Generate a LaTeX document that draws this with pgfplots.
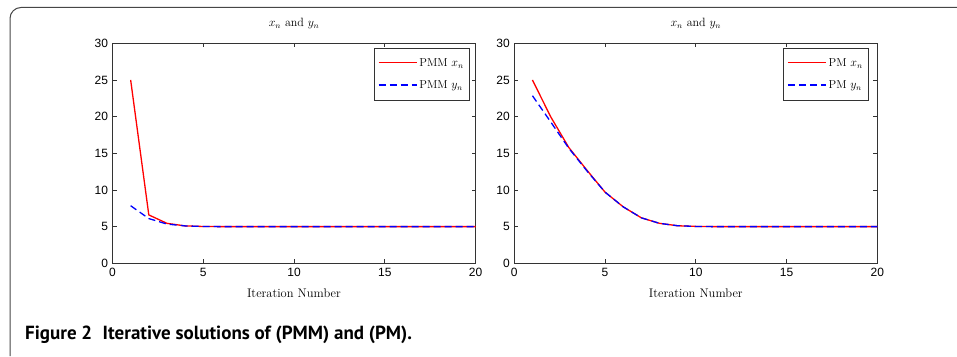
\documentclass[border=0pt]{standalone}
\usepackage{pgfplots}
\pgfplotsset{compat=1.18}
\usepackage{fontspec}
\setmainfont{Latin Modern Roman}
\newfontfamily\tickfont{Liberation Sans}
\newfontfamily\capfont{PT Sans}
\definecolor{framegray}{RGB}{70,70,70}
\pgfplotsset{
  myax/.style={
    scale only axis,
    width=363pt, height=220pt,
    xmin=0, xmax=20, ymin=0, ymax=30,
    xtick={0,5,10,15,20}, ytick={0,5,10,15,20,25,30},
    tick align=inside,
    major tick length=4pt,
    axis line style={line width=0.8pt, black!80},
    every tick/.style={line width=0.7pt, black!80},
    tick label style={font=\fontsize{12}{12}\tickfont},
    /pgf/number format/assume math mode=true,
    yticklabel style={xshift=-1pt},
    xticklabel style={yshift=-1pt},
    title={$x_n$ and $y_n$},
    title style={font=\fontsize{12}{12}\selectfont, at={(0.5,1)}, anchor=base, yshift=11pt},
    xlabel={Iteration Number},
    xlabel style={font=\fontsize{12.5}{12}\selectfont, at={(axis description cs:0.5,0)}, anchor=base, yshift=-34pt},
    legend cell align=left,
    legend style={font=\fontsize{11.5}{12}\selectfont, draw=black!80, line width=0.6pt, row sep=7pt, inner ysep=7pt, inner xsep=4pt,
      nodes={inner ysep=3pt}},
  },
  redl/.style={color=red, line width=1.3pt, solid,
    legend image code/.code={\draw[color=red, line width=1.4pt, solid] (0pt,0.5pt) -- (38pt,0.5pt);}},
  bluel/.style={color=blue, line width=1.3pt, dash pattern=on 7pt off 4pt,
    legend image code/.code={\draw[color=blue, line width=1.4pt, dash pattern=on 7pt off 4pt] (0pt,0.5pt) -- (38pt,0.5pt);}},
}
\begin{document}
\begin{tikzpicture}
\useasboundingbox (0pt,0pt) rectangle (957pt,356pt);
\draw[framegray, line width=1pt, rounded corners=11pt] (10pt,0pt) -- (10pt,348.5pt) -- (957pt,348.5pt);
\node[anchor=base west, inner sep=0pt, font=\fontsize{19}{20}\capfont\bfseries] at (25pt,17pt)
  {Figure 2\hspace{0.55em}Iterative solutions of (PMM) and (PM).};

\begin{axis}[myax, at={(112.5pt,92.7pt)}, anchor=south west,
  legend style={at={(0.985,0.978)}, anchor=north east}]
\addplot[redl] coordinates {
(1,25) (2,6.6) (3,5.45) (4,5.1) (5,5.02) (6,5) (7,5) (8,5) (9,5) (10,5)
(11,5) (12,5) (13,5) (14,5) (15,5) (16,5) (17,5) (18,5) (19,5) (20,5)};
\addlegendentry{PMM $x_n$}
\addplot[bluel] coordinates {
(1,7.85) (2,6.1) (3,5.35) (4,5.1) (5,5.02) (6,5) (7,5) (8,5) (9,5) (10,5)
(11,5) (12,5) (13,5) (14,5) (15,5) (16,5) (17,5) (18,5) (19,5) (20,5)};
\addlegendentry{PMM $y_n$}
\end{axis}

\begin{axis}[myax, at={(514.3pt,92.7pt)}, anchor=south west,
  legend style={at={(0.977,0.978)}, anchor=north east}]
\addplot[redl] coordinates {
(1,25) (2,20.0) (3,15.8) (4,12.7) (5,9.7) (6,7.7) (7,6.2) (8,5.45) (9,5.12) (10,5.03)
(11,5) (12,5) (13,5) (14,5) (15,5) (16,5) (17,5) (18,5) (19,5) (20,5)};
\addlegendentry{PM $x_n$}
\addplot[bluel] coordinates {
(1,22.85) (2,19.3) (3,15.7) (4,12.6) (5,9.7) (6,7.7) (7,6.2) (8,5.45) (9,5.12) (10,5.03)
(11,5) (12,5) (13,5) (14,5) (15,5) (16,5) (17,5) (18,5) (19,5) (20,5)};
\addlegendentry{PM $y_n$}
\end{axis}
\end{tikzpicture}
\end{document}
